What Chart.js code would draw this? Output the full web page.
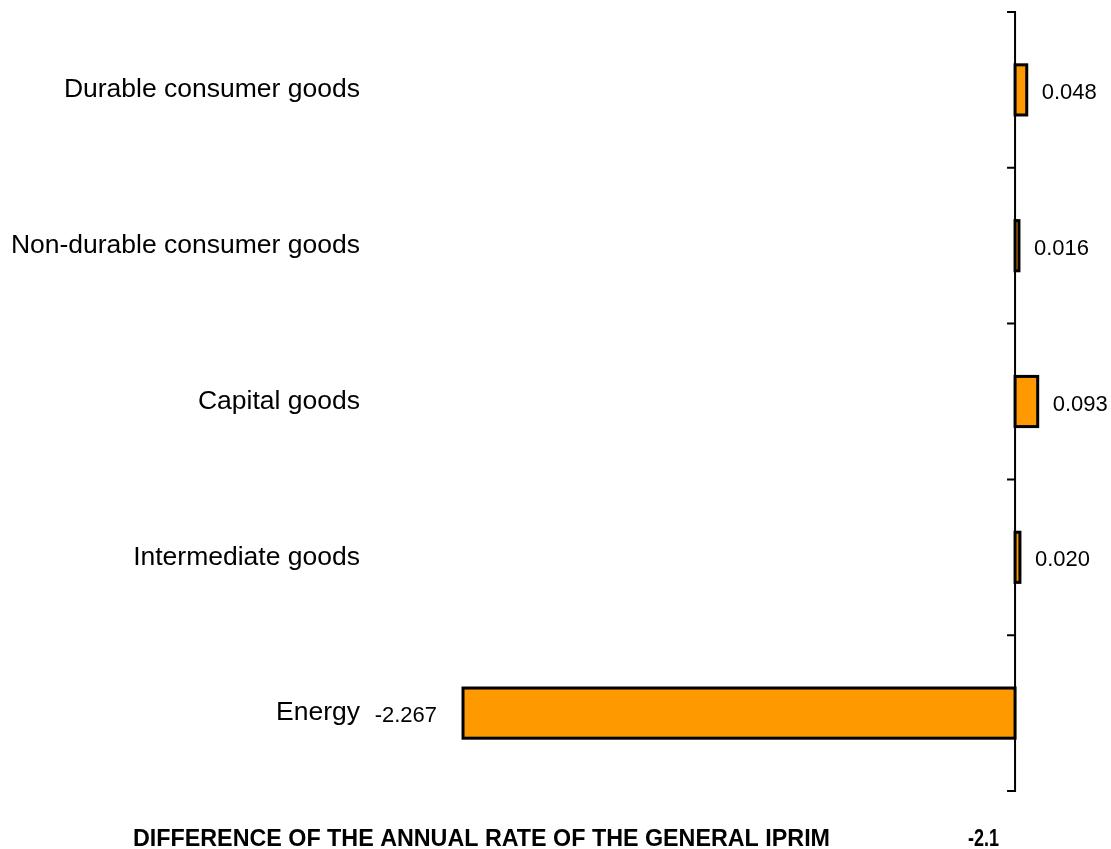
<!DOCTYPE html>
<html lang="en">
<head>
    <meta charset="UTF-8">
    <title>Contribution to the annual rate of the general IPRIM</title>
    <script src="https://cdn.jsdelivr.net/npm/chart.js"></script>
    <style>
        html, body {
            margin: 0;
            padding: 0;
            background: #ffffff;
        }
        #chart-container {
            width: 1111px;
            height: 849px;
            position: relative;
        }
    </style>
</head>
<body>

<div id="chart-container">
    <canvas id="barChart"></canvas>
</div>

<script>
    // data
    const categorias = [
        'Durable consumer goods',
        'Non-durable consumer goods',
        'Capital goods',
        'Intermediate goods',
        'Energy'
    ];
    const contribuicoes = [0.048, 0.016, 0.093, 0.020, -2.267];
    const notaTexto = 'DIFFERENCE OF THE ANNUAL RATE OF THE GENERAL IPRIM';
    const notaValor = -2.1;

    const fonte = "'Liberation Sans', Arial, sans-serif";

    // black outline centred on the bar edges (like the original)
    const contorno = {
        id: 'contorno',
        afterDatasetsDraw(chart) {
            const ctx = chart.ctx;
            const meta = chart.getDatasetMeta(0);
            ctx.save();
            ctx.strokeStyle = '#000';
            ctx.lineWidth = 3;
            ctx.lineJoin = 'miter';
            meta.data.forEach(bar => {
                const p = bar.getProps(['x', 'y', 'base', 'height'], true);
                const x0 = Math.min(p.x, p.base);
                const w = Math.abs(p.x - p.base);
                ctx.strokeRect(x0, p.y - p.height / 2, w, p.height);
            });
            ctx.restore();
        }
    };

    // zero line with small ticks on category boundaries
    const eixoZero = {
        id: 'eixoZero',
        afterDatasetsDraw(chart) {
            const ctx = chart.ctx;
            const x = chart.scales.x.getPixelForValue(0);
            const y = chart.scales.y;
            const area = chart.chartArea;
            ctx.save();
            ctx.strokeStyle = '#000';
            ctx.lineWidth = 2;
            ctx.beginPath();
            ctx.moveTo(x, area.top);
            ctx.lineTo(x, area.bottom);
            const n = categorias.length;
            const passo = (y.getPixelForValue(n - 1) - y.getPixelForValue(0)) / (n - 1);
            for (let i = 0; i <= n; i++) {
                const yy = y.getPixelForValue(0) - passo / 2 + i * passo;
                ctx.moveTo(x - 8, yy);
                ctx.lineTo(x + 1, yy);
            }
            ctx.stroke();
            ctx.restore();
        }
    };

    // value labels beside the bars and the note under the chart
    const rotulos = {
        id: 'rotulos',
        afterDraw(chart) {
            const ctx = chart.ctx;
            const meta = chart.getDatasetMeta(0);
            ctx.save();
            ctx.fillStyle = '#000';
            ctx.font = '22px ' + fonte;
            ctx.textBaseline = 'middle';
            meta.data.forEach((bar, i) => {
                const v = contribuicoes[i];
                if (v >= 0) {
                    ctx.textAlign = 'left';
                    ctx.fillText(v.toFixed(3), bar.x + 15, bar.y + 3);
                } else {
                    ctx.textAlign = 'right';
                    ctx.fillText(v.toFixed(3), bar.x - 26, bar.y + 3);
                }
            });

            // bottom note, condensed bold
            ctx.textBaseline = 'alphabetic';
            ctx.textAlign = 'left';
            ctx.font = 'bold 24px ' + fonte;
            const larg = ctx.measureText(notaTexto).width;
            ctx.save();
            ctx.translate(133, 846);
            ctx.scale(697 / larg, 1);
            ctx.fillText(notaTexto, 0, 0);
            ctx.restore();

            const txt = notaValor.toFixed(1);
            const larg2 = ctx.measureText(txt).width;
            ctx.translate(968, 846);
            ctx.scale(31 / larg2, 1);
            ctx.fillText(txt, 0, 0);
            ctx.restore();
        }
    };

    document.addEventListener('DOMContentLoaded', function() {
        const ctx = document.getElementById('barChart').getContext('2d');
        new Chart(ctx, {
            type: 'bar',
            data: {
                labels: categorias,
                datasets: [{
                    data: contribuicoes,
                    backgroundColor: '#FF9900',
                    borderWidth: 0,
                    categoryPercentage: 1,
                    barPercentage: 0.322
                }]
            },
            options: {
                indexAxis: 'y',
                responsive: true,
                maintainAspectRatio: false,
                animation: false,
                layout: {
                    padding: { top: 12, bottom: 58, left: 0, right: 0 }
                },
                scales: {
                    x: {
                        display: false,
                        min: -2.649,
                        max: 0.394
                    },
                    y: {
                        afterFit(scale) {
                            scale.width = 370;
                            scale.paddingTop = 0;
                            scale.paddingBottom = 0;
                        },
                        grid: { display: false },
                        border: { display: false },
                        ticks: {
                            color: '#000',
                            padding: 2,
                            font: { family: fonte, size: 26.5 }
                        }
                    }
                },
                plugins: {
                    legend: { display: false },
                    tooltip: { enabled: false }
                }
            },
            plugins: [contorno, eixoZero, rotulos]
        });
    });
</script>

</body>
</html>
